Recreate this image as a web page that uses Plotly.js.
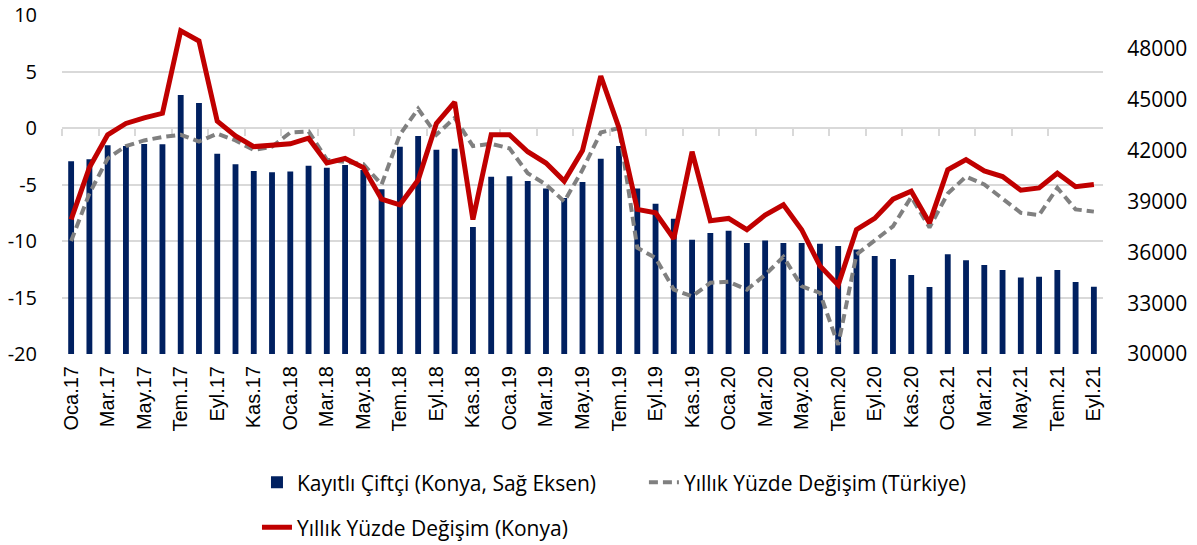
<!DOCTYPE html>
<html>
<head>
<meta charset="utf-8">
<script src="https://cdn.plot.ly/plotly-3.0.1.min.js"></script>
<style>html,body{margin:0;padding:0;background:#fff;}#chart{width:1197px;height:545px;}</style>
</head>
<body>
<div id="chart"></div>
<script>
const categories = ['Oca.17','Şub.17','Mar.17','Nis.17','May.17','Haz.17','Tem.17','Ağu.17','Eyl.17','Eki.17','Kas.17','Ara.17',
  'Oca.18','Şub.18','Mar.18','Nis.18','May.18','Haz.18','Tem.18','Ağu.18','Eyl.18','Eki.18','Kas.18','Ara.18',
  'Oca.19','Şub.19','Mar.19','Nis.19','May.19','Haz.19','Tem.19','Ağu.19','Eyl.19','Eki.19','Kas.19','Ara.19',
  'Oca.20','Şub.20','Mar.20','Nis.20','May.20','Haz.20','Tem.20','Ağu.20','Eyl.20','Eki.20','Kas.20','Ara.20',
  'Oca.21','Şub.21','Mar.21','Nis.21','May.21','Haz.21','Tem.21','Ağu.21','Eyl.21'];

const kayitliCiftci = [41370, 41490, 42310, 42270, 42390, 42370, 45280, 44810, 41820, 41190,
  40800, 40720, 40760, 41110, 40990, 41150, 40860, 39720, 42230, 42860,
  42050, 42110, 37490, 40460, 40480, 40210, 39760, 39200, 40150, 41520,
  42270, 39760, 38870, 37980, 36740, 37140, 37270, 36550, 36690, 36550,
  36550, 36510, 36370, 36160, 35780, 35610, 34660, 33950, 35880, 35530,
  35250, 34960, 34520, 34560, 34960, 34250, 33970];

const yillikTurkiye = [-10.0, -5.8, -2.7, -1.6, -1.1, -0.8, -0.6, -1.2, -0.5, -1.1,
  -1.95, -1.65, -0.4, -0.3, -2.8, -3.0, -3.2, -5.0, -0.6, 1.7,
  -0.6, 0.9, -1.6, -1.4, -1.8, -4.0, -5.0, -6.5, -3.7, -0.4,
  0.0, -10.6, -11.5, -14.3, -14.9, -13.7, -13.6, -14.3, -13.0, -11.4,
  -14.0, -14.6, -19.2, -11.2, -9.9, -8.7, -6.1, -8.8, -5.8, -4.3,
  -5.0, -6.2, -7.5, -7.7, -5.3, -7.2, -7.4];

const yillikKonya = [-8.1, -3.5, -0.6, 0.4, 0.9, 1.3, 8.6, 7.7, 0.6, -0.7,
  -1.65, -1.5, -1.4, -0.9, -3.1, -2.7, -3.5, -6.3, -6.8, -4.6,
  0.4, 2.3, -8.1, -0.6, -0.6, -2.1, -3.1, -4.7, -2.0, 4.6,
  0.0, -7.2, -7.5, -9.8, -2.1, -8.2, -8.0, -9.0, -7.7, -6.8,
  -9.0, -12.2, -13.9, -9.0, -8.0, -6.3, -5.6, -8.4, -3.7, -2.8,
  -3.8, -4.3, -5.5, -5.3, -4.0, -5.2, -5.0];

const seriesNames = ['Kayıtlı Çiftçi (Konya, Sağ Eksen)', 'Yıllık Yüzde Değişim (Türkiye)', 'Yıllık Yüzde Değişim (Konya)'];
const rightTicks = [30000, 33000, 36000, 39000, 42000, 45000, 48000];
const leftTicks = [-20, -15, -10, -5, 0, 5, 10];

const idx = categories.map((c, i) => i);
const labelIdx = idx.filter(i => i % 2 === 0);
const labelText = labelIdx.map(i => categories[i]);
const boundaryTicks = idx.filter(i => i % 2 === 0 && i < categories.length - 1).map(i => i - 0.5);
const xRange = [-0.5, categories.length - 0.5];

const FONT = '"Open Sans", "Noto Sans", sans-serif';
const XFONT = '"Liberation Sans", Arial, sans-serif';

const traces = [
  {type: 'bar', x: idx, y: kayitliCiftci, name: seriesNames[0], xaxis: 'x', yaxis: 'y',
   marker: {color: '#002060'}, legend: 'legend', hoverinfo: 'skip'},
  {type: 'scatter', mode: 'lines', x: idx, y: yillikTurkiye, name: seriesNames[1], xaxis: 'x2', yaxis: 'y2',
   line: {color: '#808080', width: 4, dash: '9px,5px'}, legend: 'legend2'},
  {type: 'scatter', mode: 'lines', x: idx, y: yillikKonya, name: seriesNames[2], xaxis: 'x2', yaxis: 'y2',
   line: {color: '#C00000', width: 5}, legend: 'legend3'}
];

const legendBase = {orientation: 'h', xanchor: 'left', yanchor: 'middle', bgcolor: 'rgba(0,0,0,0)',
  font: {family: FONT, size: 21, color: '#000'}};

const layout = {
  width: 1197, height: 545,
  margin: {l: 62, r: 94, t: 15, b: 191, autoexpand: false},
  paper_bgcolor: '#fff', plot_bgcolor: '#fff',
  bargap: 0.68,
  font: {family: FONT, size: 20, color: '#000'},
  xaxis: {range: xRange, tickmode: 'array', tickvals: labelIdx, ticktext: labelText, tickangle: -90,
    ticks: '', showgrid: false, zeroline: false, showline: false, ticklabelstandoff: 7, automargin: false,
    tickfont: {family: XFONT, size: 20, color: '#000'}},
  xaxis2: {overlaying: 'x', anchor: 'free', position: 2/3, range: xRange, tickmode: 'array', tickvals: boundaryTicks,
    showticklabels: false, ticks: 'outside', ticklen: 7, tickwidth: 2, tickcolor: '#d9d9d9',
    showline: true, linecolor: '#d9d9d9', linewidth: 2, showgrid: false, zeroline: false, layer: 'below traces'},
  yaxis: {side: 'right', range: [30000, 50000], tickmode: 'array', tickvals: rightTicks, tickformat: 'd',
    showgrid: false, zeroline: false, showline: false, ticks: 'outside', ticklen: 19, tickcolor: 'rgba(0,0,0,0)',
    automargin: false, tickfont: {family: FONT, size: 21, color: '#000'}},
  yaxis2: {overlaying: 'y', side: 'left', range: [-20, 10], tickmode: 'array',
    tickvals: leftTicks, ticktext: leftTicks.map(v => String(v)),
    showgrid: true, gridcolor: '#d9d9d9', gridwidth: 2, zeroline: false, showline: false,
    ticks: 'outside', ticklen: 20, tickcolor: 'rgba(0,0,0,0)',
    automargin: false, tickfont: {family: FONT, size: 20, color: '#000'}},
  showlegend: true,
  legend: Object.assign({}, legendBase, {x: 0.1873, y: -0.3797}),
  legend2: Object.assign({}, legendBase, {x: 0.559, y: -0.3797}),
  legend3: Object.assign({}, legendBase, {x: 0.1873, y: -0.5124})
};

Plotly.newPlot('chart', traces, layout, {displayModeBar: false, staticPlot: true});
</script>
</body>
</html>
